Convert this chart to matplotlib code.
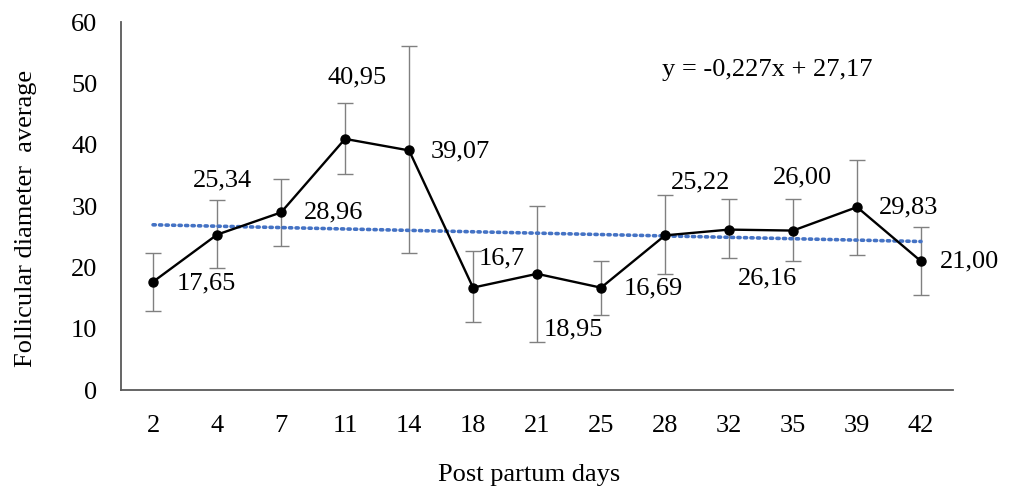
import matplotlib
matplotlib.use("Agg")
import matplotlib.pyplot as plt
import numpy as np

days = ["2", "4", "7", "11", "14", "18", "21", "25", "28", "32", "35", "39", "42"]
means = [17.65, 25.34, 28.96, 40.95, 39.07, 16.7, 18.95, 16.69, 25.22, 26.16, 26.00, 29.83, 21.00]
err_low = [4.8, 5.4, 5.5, 5.8, 16.8, 5.6, 11.1, 4.5, 6.3, 4.7, 5.0, 7.8, 5.5]
err_high = [4.7, 5.7, 5.4, 5.8, 17.0, 6.0, 11.0, 4.3, 6.6, 5.0, 5.2, 7.7, 5.6]
value_labels = ["17,65", "25,34", "28,96", "40,95", "39,07", "16,7", "18,95",
                "16,69", "25,22", "26,16", "26,00", "29,83", "21,00"]
trend_slope = -0.227
trend_intercept = 27.17
trend_text = "y = -0,227x + 27,17"

# label offsets in pixels (dx, dy up positive)
label_offsets = [(53, -2), (5, 54), (52, 0), (12, 61), (51, -1), (29, 29), (36, -56),
                 (52, -1), (36, 53), (38, -49), (9, 53), (52, 0), (48, 0)]

plt.rcParams['font.family'] = ['Liberation Serif', 'DejaVu Serif']
FS = 19

fig = plt.figure(figsize=(10.09, 4.90), dpi=100)
ax = fig.add_axes([0.12, 0.204, 0.8245, 0.751])

x = np.arange(1, len(days) + 1)

# trendline
tx = np.array([x[0], x[-1]], dtype=float)
ax.plot(tx, trend_slope * tx + trend_intercept, linestyle=(0, (0.6, 1.2)),
        color="#4472C4", lw=2.6, dash_capstyle="round", zorder=2)

ax.errorbar(x, means, yerr=[err_low, err_high], fmt="none", ecolor="#808080",
            elinewidth=1.0, capsize=5.5, capthick=1.0, zorder=1)
ax.plot(x, means, color="black", lw=1.7, marker="o", markersize=6.5, zorder=3)

for xi, yi, lab, (dx, dy) in zip(x, means, value_labels, label_offsets):
    ax.annotate(lab, (xi, yi), xytext=(dx * 0.72, dy * 0.72), textcoords="offset points",
                ha="center", va="center", fontsize=FS)

fig.text(0.76, 0.857, trend_text, ha="center", va="center", fontsize=FS)

ax.set_xlim(0.5, len(days) + 0.5)
ax.set_ylim(0, 60)
ax.set_yticks(range(0, 61, 10))
ax.set_xticks(x)
ax.set_xticklabels(days)
ax.tick_params(axis="both", length=0, labelsize=FS)
ax.tick_params(axis="x", pad=18)
ax.tick_params(axis="y", pad=17)
for s in ["top", "right"]:
    ax.spines[s].set_visible(False)
for s in ["left", "bottom"]:
    ax.spines[s].set_color("#595959")
    ax.spines[s].set_linewidth(1.3)

fig.text(529 / 1009, 1 - 475 / 490, "Post partum days", fontsize=FS, ha="center", va="center")
fig.text(26 / 1009, 1 - 218 / 490, "Follicular diameter  average", fontsize=FS,
         ha="center", va="center", rotation=90)

fig.savefig("out.png", dpi=100)
